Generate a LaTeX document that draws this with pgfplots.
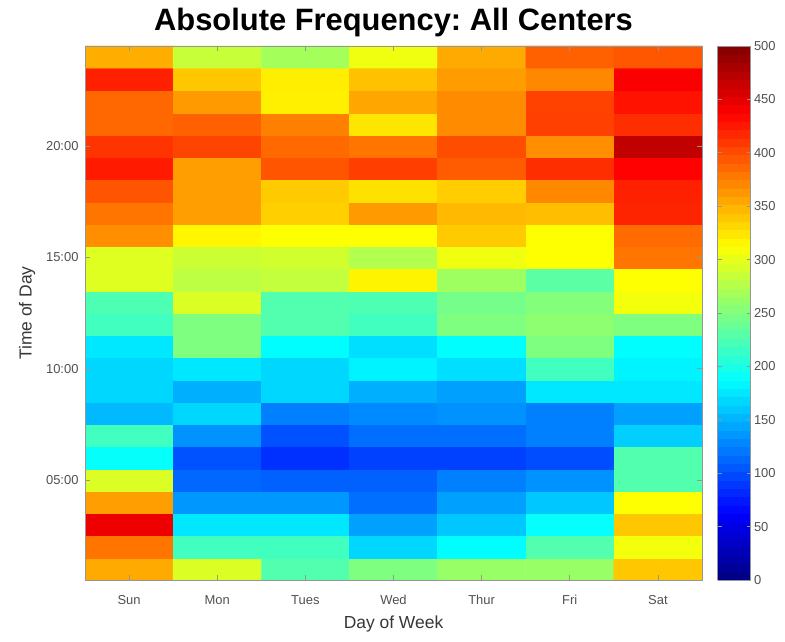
\documentclass[border=0pt]{standalone}
\usepackage{pgfplots}
\pgfplotsset{compat=1.18}
\usepackage{fontspec}
\setmainfont{Liberation Sans}
\definecolor{tickgray}{RGB}{80,80,80}
\definecolor{labelgray}{RGB}{55,55,55}
\definecolor{axgray}{RGB}{150,150,150}
\pgfplotsset{/pgf/number format/assume math mode=true}
\pgfplotstableread{
x y c
1 1 354
2 1 295
3 1 227
4 1 250
5 1 262
6 1 262
7 1 340
1 2 380
2 2 219
3 2 219
4 2 168
5 2 187
6 2 227
7 2 307
1 3 446
2 3 176
3 3 176
4 3 141
5 3 160
6 3 190
7 3 340
1 4 360
2 4 137
3 4 137
4 4 117
5 4 141
6 4 160
7 4 312
1 5 295
2 5 113
3 5 110
4 5 110
5 5 125
6 5 134
7 5 227
1 6 190
2 6 102
3 6 86
4 6 94
5 6 94
6 6 100
7 6 227
1 7 219
2 7 134
3 7 102
4 7 117
5 7 117
6 7 125
7 7 164
1 8 153
2 8 168
3 8 125
4 8 130
5 8 134
6 8 125
7 8 141
1 9 168
2 9 149
3 9 168
4 9 149
5 9 141
6 9 176
7 9 176
1 10 168
2 10 176
3 10 168
4 10 182
5 10 172
6 10 219
7 10 182
1 11 176
2 11 250
3 11 187
4 11 172
5 11 187
6 11 250
7 11 187
1 12 219
2 12 250
3 12 227
4 12 219
5 12 250
6 12 257
7 12 250
1 13 225
2 13 295
3 13 227
4 13 225
5 13 245
6 13 252
7 13 307
1 14 297
2 14 280
3 14 283
4 14 318
5 14 265
6 14 232
7 14 312
1 15 297
2 15 287
3 15 290
4 15 275
5 15 305
6 15 312
7 15 380
1 16 368
2 16 317
3 16 312
4 16 312
5 16 338
6 16 312
7 16 385
1 17 380
2 17 360
3 17 336
4 17 362
5 17 347
6 17 344
7 17 420
1 18 396
2 18 360
3 18 338
4 18 327
5 18 337
6 18 371
7 18 422
1 19 425
2 19 360
3 19 396
4 19 407
5 19 393
6 19 415
7 19 437
1 20 412
2 20 404
3 20 386
4 20 380
5 20 400
6 20 368
7 20 468
1 21 387
2 21 390
3 21 375
4 21 325
5 21 369
6 21 406
7 21 415
1 22 387
2 22 362
3 22 320
4 22 356
5 22 369
6 22 405
7 22 428
1 23 422
2 23 340
3 23 321
4 23 343
5 23 361
6 23 371
7 23 440
1 24 352
2 24 285
3 24 268
4 24 305
5 24 354
6 24 390
7 24 395
}\freqdata
\begin{document}
\begin{tikzpicture}
\begin{axis}[
  name=main,
  scale only axis, width=617bp, height=534bp,
  xmin=0.5, xmax=7.5, ymin=0.5, ymax=24.5,
  enlargelimits=false,
  axis on top,
  xtick={1,...,7}, xticklabels={Sun,Mon,Tues,Wed,Thur,Fri,Sat},
  ytick={5,10,15,20}, yticklabels={05:00,10:00,15:00,20:00},
  tick align=inside, major tick length=5bp,
  tick style={axgray, line width=0.7bp},
  axis line style={axgray, line width=0.8bp},
  ticklabel style={font=\fontsize{13}{15}\selectfont, text=tickgray},
  xticklabel style={yshift=-12bp},
  yticklabel style={xshift=-3bp},
  xlabel={Day of Week}, ylabel={Time of Day},
  label style={font=\fontsize{17.5}{20}\selectfont, text=labelgray},
  ylabel shift=4bp,
  xlabel shift=4bp,
  title={\frenchspacing Absolute Frequency: All Centers},
  title style={font=\bfseries\fontsize{31}{35}\selectfont},
  colormap/jet,
  point meta min=0, point meta max=500,
  colorbar sampled,
  colorbar style={
    samples=65,
    at={(parent axis.north east)}, anchor=north west, xshift=7bp,
    width=33bp,
    ytick={0,50,...,500},
    tick align=inside, major tick length=4bp,
    tick style={axgray, line width=0.7bp},
    axis line style={axgray, line width=0.8bp},
    yticklabel style={font=\fontsize{13}{15}\selectfont, text=tickgray},
  },
]
\addplot[matrix plot*, mesh/cols=7, point meta=explicit] table[meta=c]{\freqdata};
\end{axis}
\path ([shift={(-85bp,-61bp)}]main.south west) rectangle ([shift={(83bp,46bp)}]main.north east);
\end{tikzpicture}
\end{document}
